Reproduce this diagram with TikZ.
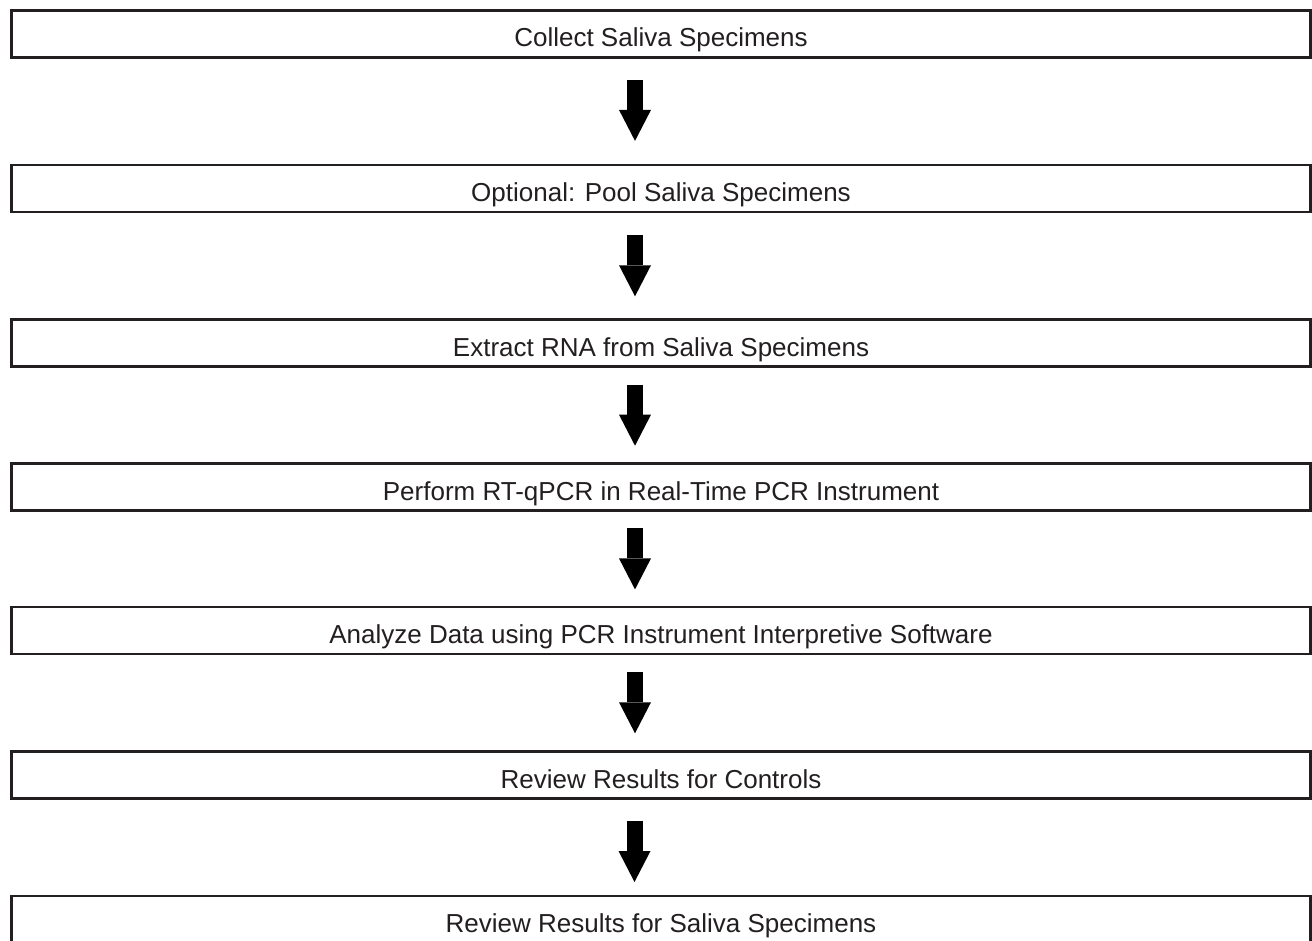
\documentclass[tikz,border=0pt]{standalone}
\usepackage{fontspec}
\setmainfont{Liberation Sans}
\usetikzlibrary{arrows.meta}
\definecolor{ink}{RGB}{35,31,32}
\tikzset{
  stepbox/.style={draw=ink, line width=2.7pt, fill=white, outer sep=0pt, inner sep=0pt,
    minimum width=1299pt, minimum height=47pt, text height=26pt, text depth=0pt,
    text=ink, font=\fontsize{26}{30}\selectfont},
  flowarrow/.style={draw=black, line width=16pt,
    -{Triangle[width=32pt,length=31pt,line width=0pt]}}
}
\begin{document}
\begin{tikzpicture}[x=1pt,y=-1pt]
\useasboundingbox (0,0) rectangle (1312,940);
\node[stepbox] (b1) at (661,33.8) {Collect Saliva Specimens};
\node[stepbox] (b2) at (661,188.4) {Optional: Pool Saliva Specimens};
\node[stepbox] (b3) at (661,343.2) {Extract RNA from Saliva Specimens};
\node[stepbox] (b4) at (661,487.2) {Perform RT-qPCR in Real-Time PCR Instrument};
\node[stepbox] (b5) at (661,630.5) {Analyze Data using PCR Instrument Interpretive Software};
\node[stepbox] (b6) at (661,775) {Review Results for Controls};
\node[stepbox] (b7) at (661,919.5) {Review Results for Saliva Specimens};
\draw[flowarrow, shorten <=23pt, shorten >=24pt] ([xshift=-26pt]b1.south) -- ([xshift=-26pt]b2.north);
\draw[flowarrow, shorten <=23.4pt, shorten >=23.4pt] ([xshift=-26pt]b2.south) -- ([xshift=-26pt]b3.north);
\draw[flowarrow, shorten <=18pt, shorten >=18pt] ([xshift=-26pt]b3.south) -- ([xshift=-26pt]b4.north);
\draw[flowarrow, shorten <=17.6pt, shorten >=17.6pt] ([xshift=-26pt]b4.south) -- ([xshift=-26pt]b5.north);
\draw[flowarrow, shorten <=18.2pt, shorten >=18.2pt] ([xshift=-26pt]b5.south) -- ([xshift=-26pt]b6.north);
\draw[flowarrow, shorten <=22pt, shorten >=14pt] ([xshift=-26.5pt]b6.south) -- ([xshift=-26.5pt]b7.north);
\end{tikzpicture}
\end{document}
